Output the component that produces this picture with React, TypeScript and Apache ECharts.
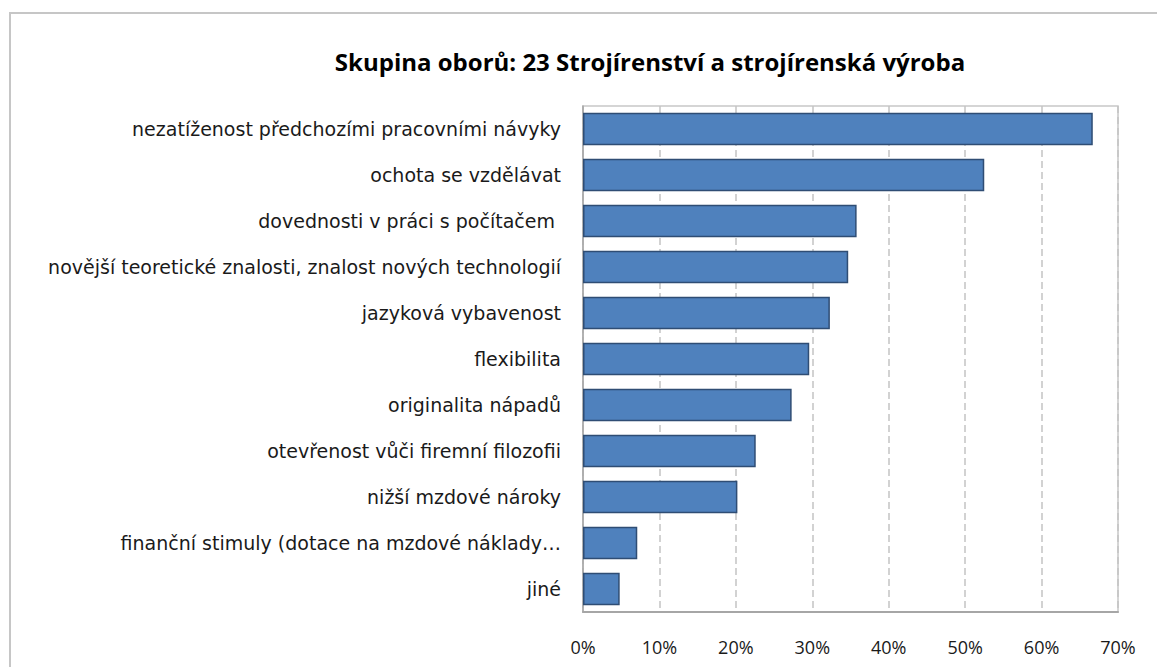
import React, { useEffect, useRef } from "react";
import * as echarts from "echarts";

const titleText = "Skupina oborů: 23 Strojírenství a strojírenská výroba";
const categories = [
  "nezatíženost předchozími pracovními návyky",
  "ochota se vzdělávat",
  "dovednosti v práci s počítačem ",
  "novější teoretické znalosti, znalost nových technologií",
  "jazyková vybavenost",
  "flexibilita",
  "originalita nápadů",
  "otevřenost vůči firemní filozofii",
  "nižší mzdové nároky",
  "finanční stimuly (dotace na mzdové náklady…",
  "jiné",
];
const values = [66.7, 52.5, 35.8, 34.7, 32.3, 29.6, 27.3, 22.6, 20.2, 7.1, 4.8];
const xTicks = { min: 0, max: 70, interval: 10 };

export default function App() {
  const ref = useRef<HTMLDivElement>(null);
  useEffect(() => {
    if (!ref.current) return;
    const chart = echarts.init(ref.current, null, { renderer: "svg" });
    chart.setOption({
      animation: false,
      backgroundColor: "#ffffff",
      title: {
        text: titleText,
        left: 645,
        top: 44,
        textAlign: "center",
        textStyle: {
          fontFamily: "Open Sans",
          fontWeight: "bold",
          fontSize: 24,
          color: "#000000",
        },
      },
      graphic: [
        {
          type: "polyline",
          shape: { points: [[10, 700], [10, 13], [1200, 13]] },
          style: { stroke: "#c6c6c6", lineWidth: 2, fill: "none" },
          silent: true,
        },
      ],
      grid: {
        left: 583,
        right: 39,
        top: 106,
        bottom: 55,
        show: true,
        borderColor: "#c8c8c8",
        borderWidth: 1.5,
        containLabel: false,
      },
      xAxis: {
        type: "value",
        min: xTicks.min,
        max: xTicks.max,
        interval: xTicks.interval,
        axisLine: { show: true, lineStyle: { color: "#a6a6a6", width: 2 } },
        axisTick: { show: false },
        axisLabel: {
          formatter: "{value}%",
          margin: 26,
          fontFamily: "Open Sans",
          fontSize: 18,
          color: "#1a1a1a",
        },
        splitLine: {
          show: true,
          lineStyle: { color: "#c4c4c4", type: [7, 4], width: 1.5 },
        },
      },
      yAxis: {
        type: "category",
        data: categories,
        inverse: true,
        axisLine: { show: true, lineStyle: { color: "#a6a6a6", width: 1.5 } },
        axisTick: { show: false },
        axisLabel: {
          margin: 22,
          fontFamily: "DejaVu Sans",
          fontSize: 19,
          color: "#1a1a1a",
        },
      },
      series: [
        {
          type: "bar",
          data: values,
          barCategoryGap: "29%",
          itemStyle: {
            color: "#4f81bd",
            borderColor: "#2f4d74",
            borderWidth: 1.5,
          },
        },
      ],
    });
    return () => chart.dispose();
  }, []);
  return (
    <div
      ref={ref}
      style={{ position: "fixed", left: 0, top: 0, width: 1157, height: 667 }}
    />
  );
}
